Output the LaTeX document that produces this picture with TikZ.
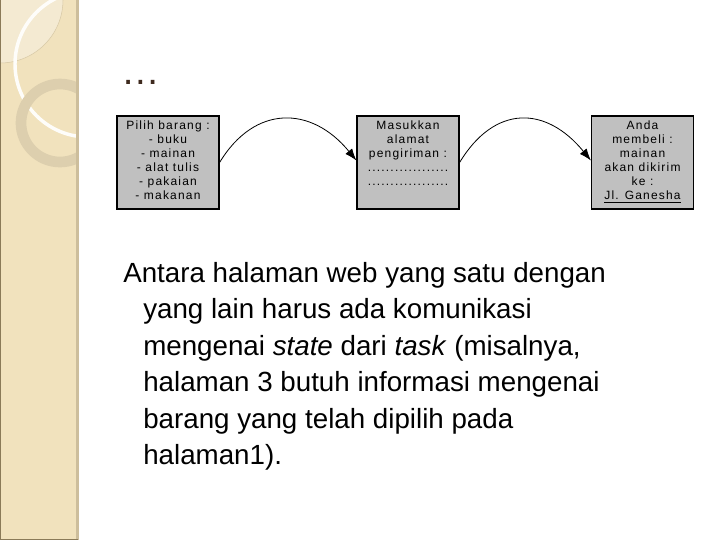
\documentclass[tikz,border=0pt]{standalone}
\usepackage{fontspec}
\setmainfont{Liberation Sans}
\newfontfamily\boxfont[LetterSpace=10]{Liberation Sans}
\usetikzlibrary{arrows.meta}
\definecolor{strip}{HTML}{F1E2BD}
\definecolor{stripedge}{HTML}{CDBE9C}
\definecolor{stripdark}{HTML}{8A7A58}
\definecolor{ringc}{HTML}{DDCFAE}
\definecolor{lightc}{HTML}{F4EAD2}
\definecolor{boxgray}{HTML}{C0C0C0}
\definecolor{titlec}{HTML}{3E2A1E}
\tikzset{
  pagebox/.style={draw=black, line width=0.9pt, fill=boxgray, minimum width=76.5pt, minimum height=69.75pt, inner sep=0pt},
  boxtext/.style={font=\boxfont\fontsize{9}{10.5}\selectfont, align=center, inner sep=0pt, anchor=north},
  bodyline/.style={font=\fontsize{20.8}{24}\selectfont, anchor=base west, inner sep=0pt},
  arr/.style={-{Latex[length=9pt,width=6.5pt]}, line width=0.6pt}
}
\begin{document}
\begin{tikzpicture}[x=0.75pt,y=-0.75pt]
\useasboundingbox (0,0) rectangle (720,540);
\fill[white] (0,0) rectangle (720,540);
% decorative strip
\begin{scope}
\clip (0,0) rectangle (78,540);
\fill[strip] (0,0) rectangle (78,540);
\fill[lightc] (0,0) circle (63);
\draw[stripedge!70!strip, line width=0.4pt] (0,0) circle (63);
\draw[white!92!strip, line width=2.6pt] (88,64) circle (73);
\draw[ringc, line width=8pt] (60,123) circle (39);
\end{scope}
\fill[stripedge] (76,0) rectangle (79,540);
\draw[stripdark, line width=0.8pt] (0.5,0) -- (0.5,539.5) -- (78,539.5);
% title
\node[font=\fontsize{29}{30}\selectfont, text=titlec, anchor=base west, inner sep=0pt] (title) at (121,84) {…};
% boxes
\node[pagebox] (b1) at (168,162.5) {};
\node[pagebox] (b2) at (408,162.5) {};
\node[pagebox] (b3) at (642.5,162.5) {};
\node[boxtext] (t1) at (168,121) {Pilih barang :\\- buku\\- mainan\\- alat tulis\\- pakaian\\- makanan};
\node[boxtext] (t2) at (408,121) {Masukkan\\alamat\\pengiriman :\\..................\\..................};
\node[boxtext] (t3) at (642.5,121) {Anda\\membeli :\\mainan\\akan dikirim\\ke :\\\underline{Jl. Ganesha}};
% connectors
\draw[arr] (b1.east) .. controls +(35,-58) and +(-45,-55) .. ([yshift=1.5pt]b2.west);
\draw[arr] (b2.east) .. controls +(35,-58) and +(-45,-55) .. ([yshift=1.5pt]b3.west);
% body text
\node[bodyline] (l1) at (123,282) {Antara halaman web yang satu dengan};
\node[bodyline] (l2) at (143,318.5) {yang lain harus ada komunikasi};
\node[bodyline] (l3) at (143,355) {mengenai \textit{state} dari \textit{task} (misalnya,};
\node[bodyline] (l4) at (143,391.5) {halaman 3 butuh informasi mengenai};
\node[bodyline] (l5) at (143,428) {barang yang telah dipilih pada};
\node[bodyline] (l6) at (143,464.5) {halaman1).};
\end{tikzpicture}
\end{document}
